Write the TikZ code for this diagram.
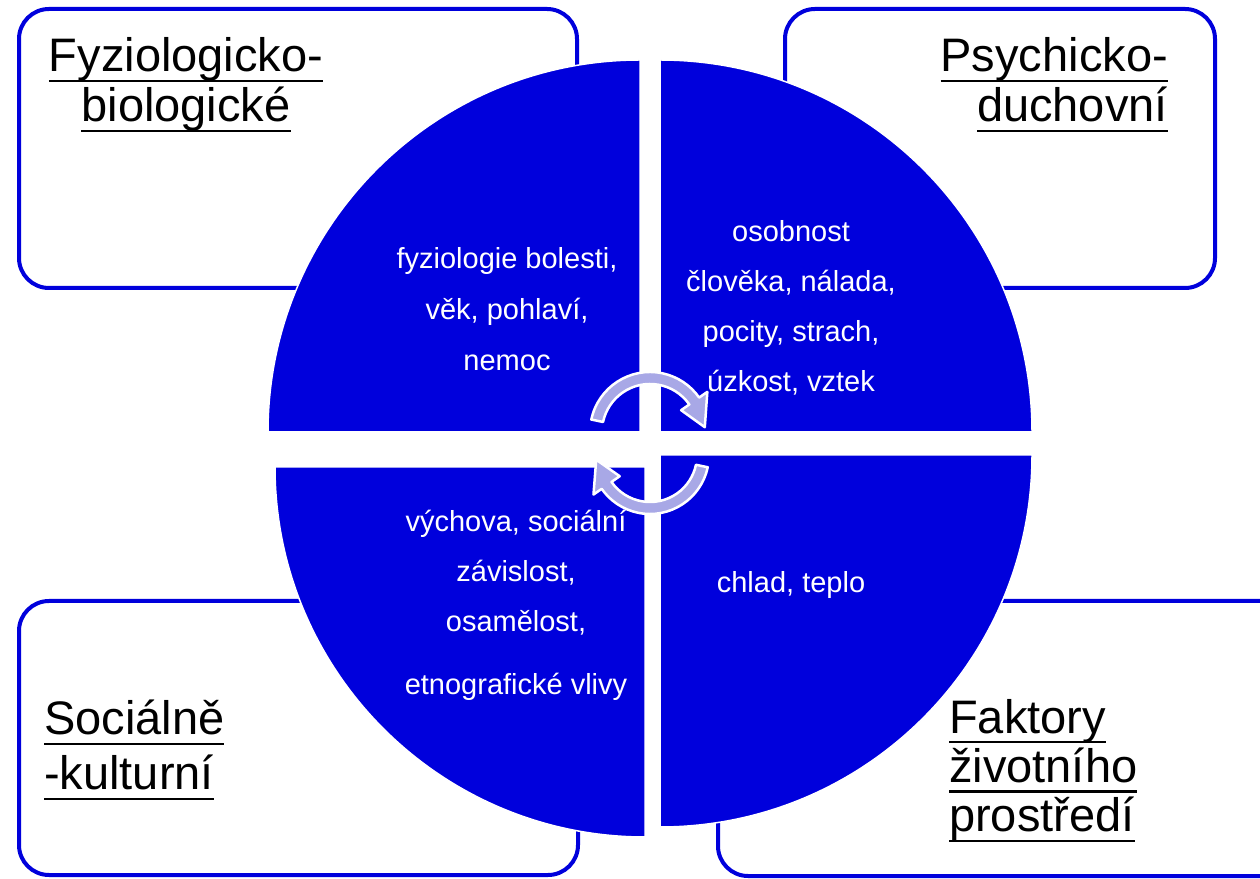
\documentclass[tikz,border=0pt]{standalone}
\usepackage{fontspec}
\setmainfont{Liberation Sans}
\newcommand{\myul}[1]{\setbox0\hbox{#1}\rlap{\rule[-10.5pt]{\wd0}{2.6pt}}\box0}
\definecolor{pieblue}{RGB}{0,0,220}
\definecolor{arrowfill}{RGB}{168,168,230}
\begin{document}
\begin{tikzpicture}[x=1pt,y=1pt,
  box/.style={draw=pieblue, line width=4pt, rounded corners=30pt, fill=white},
  sector/.style={fill=pieblue, draw=white, line width=1.5pt},
  cyc/.style={fill=arrowfill, draw=white, line width=2.5pt, line join=round},
  titlebig/.style={inner sep=0pt, text=black, font=\fontsize{47}{#1}\selectfont},
  innertext/.style={inner sep=0pt, text=white, font=\fontsize{29}{#1}\selectfont}]
\useasboundingbox (0,0) rectangle (1260,878);
\clip (0,0) rectangle (1260,878);
% boxes
\draw[box] (19,869) rectangle (577,590);
\draw[box] (785,869) rectangle (1215,590);
\draw[box] (19,277) rectangle (578,3);
\draw[box] (718,277) rectangle (1290,2);
% sectors
\draw[sector] (640,446) -- ++(180:372) arc[start angle=180,end angle=90,radius=372] -- cycle;
\draw[sector] (660,446) -- ++(90:372) arc[start angle=90,end angle=0,radius=372] -- cycle;
\draw[sector] (645,411) -- ++(270:370) arc[start angle=270,end angle=180,radius=370] -- cycle;
\draw[sector] (660,423) -- ++(0:372) arc[start angle=0,end angle=-90,radius=372] -- cycle;
% titles
\node[titlebig=50, anchor=base] (t1) at (186,806)
  {\begin{tabular}[t]{@{}c@{}}\myul{Fyziologicko-}\\\myul{biologické}\end{tabular}};
\node[titlebig=50, anchor=base east] (t2) at (1168,806)
  {\begin{tabular}[t]{@{}r@{}}\myul{Psychicko-}\\\myul{duchovní}\end{tabular}};
\node[titlebig=55, anchor=base west] (t3) at (44,143)
  {\begin{tabular}[t]{@{}l@{}}\myul{Sociálně}\\\myul{-kulturní}\end{tabular}};
\node[titlebig=49, anchor=base west] (t4) at (949,145)
  {\begin{tabular}[t]{@{}l@{}}\myul{Faktory}\\\myul{životního}\\\myul{prostředí}\end{tabular}};
% inner texts
\node[innertext=51, anchor=base] (i1) at (507,609)
  {\begin{tabular}[t]{@{}c@{}}fyziologie bolesti,\\věk, pohlaví,\\nemoc\end{tabular}};
\node[innertext=50, anchor=base] (i2) at (791,636)
  {\begin{tabular}[t]{@{}c@{}}osobnost\\člověka, nálada,\\pocity, strach,\\úzkost, vztek\end{tabular}};
\node[innertext=50, anchor=base] (i3) at (516,346)
  {\begin{tabular}[t]{@{}c@{}}výchova, sociální\\závislost,\\osamělost,\\[13pt]etnografické vlivy\end{tabular}};
\node[innertext=50, anchor=base] (i4) at (791,285) {chlad, teplo};
% circular arrows
\begin{scope}[shift={(650,446)}]
\draw[cyc] (168:60) arc[start angle=168,end angle=35,radius=60] -- (35:70) -- (5:55)
  -- (35:38) -- (35:48) arc[start angle=35,end angle=168,radius=48] -- cycle;
\end{scope}
\begin{scope}[shift={(650,423)}]
\draw[cyc] (348:59) arc[start angle=348,end angle=215,radius=59] -- (215:69) -- (185:54)
  -- (215:37) -- (215:47) arc[start angle=215,end angle=348,radius=47] -- cycle;
\end{scope}
\end{tikzpicture}
\end{document}
